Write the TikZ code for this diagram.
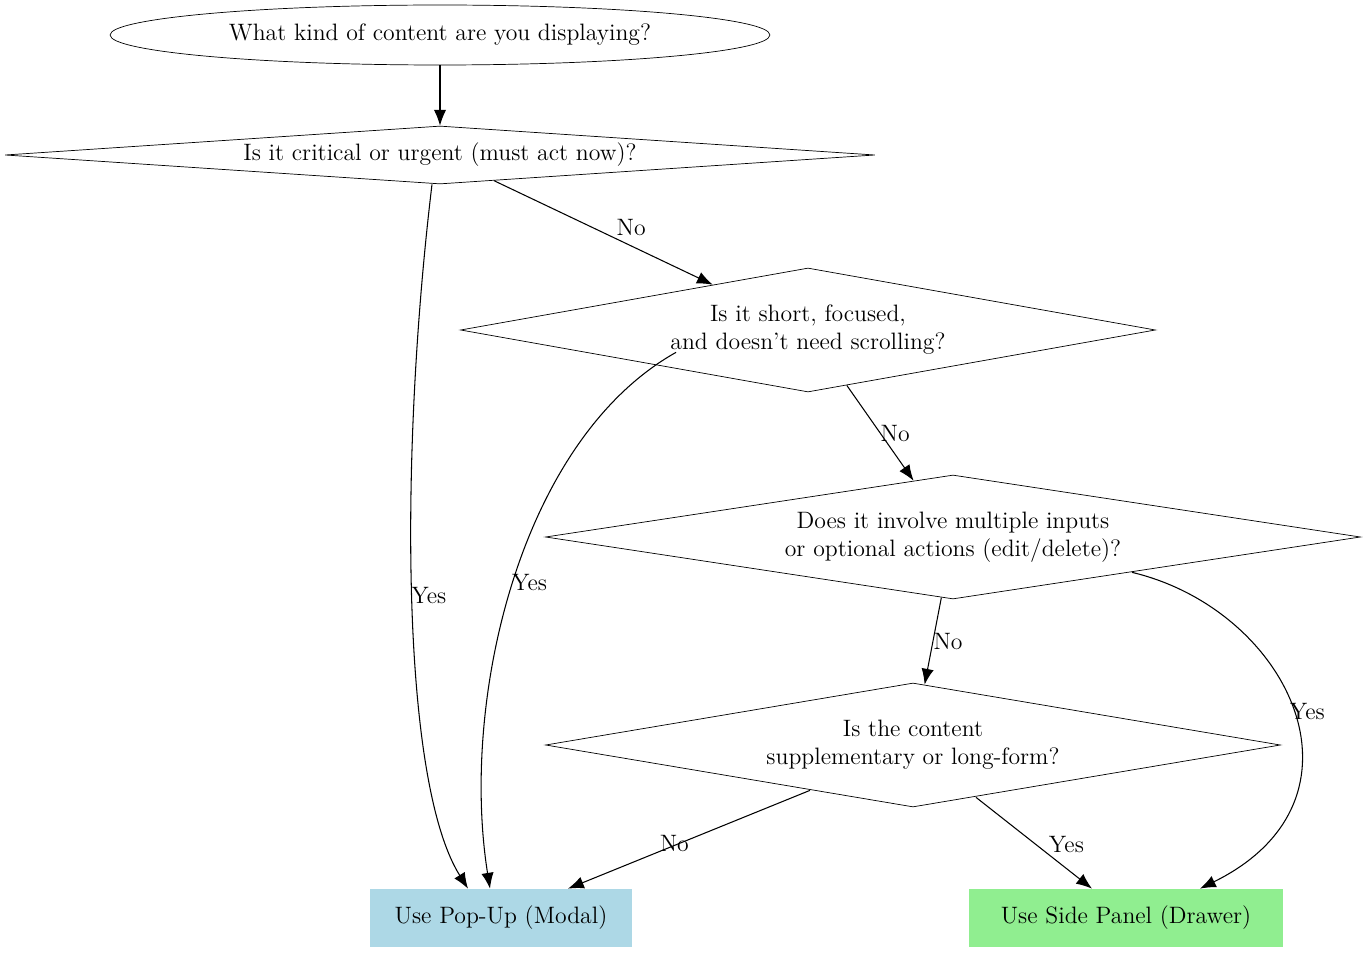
\documentclass[tikz,border=0pt]{standalone}
\usepackage{tikz}
\usetikzlibrary{shapes.geometric,arrows.meta,positioning}
\definecolor{modalblue}{RGB}{173,216,230}
\definecolor{drawergreen}{RGB}{144,238,144}
\tikzset{
	frage/.style={diamond, draw, inner sep=0pt, align=center},
	ziel/.style={rectangle, inner sep=0pt, minimum height=1.16cm},
	pfeil/.style={line width=0.6pt, -{Latex[length=9pt,width=7pt]}},
	lbl/.style={inner sep=1pt}
}
\begin{document}
\begin{tikzpicture}[x=0.02cm, y=-0.02cm, font=\fontsize{13.5}{16}\selectfont]
	\useasboundingbox (0,0) rectangle (1366,956);
	%%Knoten
	\node[ellipse, draw, minimum width=13.2cm, minimum height=1.2cm] (start) at (440,35) {What kind of content are you displaying?};
	\node[frage, minimum width=17.4cm, minimum height=1.16cm, aspect=15] (krit) at (440,155) {Is it critical or urgent (must act now)?};
	\node[frage, minimum width=13.9cm, minimum height=2.48cm, aspect=5.6] (kurz) at (808,330) {Is it short, focused,\\and doesn't need scrolling?};
	\node[frage, minimum width=16.3cm, minimum height=2.48cm, aspect=6.6] (multi) at (953,537) {Does it involve multiple inputs\\or optional actions (edit/delete)?};
	\node[frage, minimum width=14.7cm, minimum height=2.48cm, aspect=5.9] (lang) at (913,745) {Is the content\\supplementary or long-form?};
	\node[ziel, fill=modalblue, minimum width=5.24cm] (modal) at (501,918) {Use Pop-Up (Modal)};
	\node[ziel, fill=drawergreen, minimum width=6.28cm] (drawer) at (1126,918) {Use Side Panel (Drawer)};
	%%Pfeile
	\draw[pfeil] (start) -- (krit);
	\draw[pfeil] (krit) -- (kurz) node[lbl, pos=0.55, above right] {No};
	\draw[pfeil] ([xshift=-0.16cm]krit.south) .. controls (400,450) and (400,780) .. ([xshift=-0.66cm]modal.north) node[lbl, pos=0.5, right=-2pt] {Yes};
	\draw[pfeil] ([xshift=-2.64cm,yshift=0.8cm]kurz.south) .. controls (520,440) and (460,700) .. ([xshift=-0.22cm]modal.north) node[lbl, pos=0.5, right=-2pt] {Yes};
	\draw[pfeil] (kurz) -- (multi) node[lbl, pos=0.5, right=-1pt] {No};
	\draw[pfeil] (multi) -- (lang) node[lbl, pos=0.5, right=-1pt] {No};
	\draw[pfeil] ([xshift=3.58cm,yshift=0.54cm]multi.south) .. controls (1290,610) and (1380,800) .. ([xshift=1.48cm]drawer.north) node[lbl, pos=0.5, right=-3pt] {Yes};
	\draw[pfeil] ([xshift=-2.06cm,yshift=0.34cm]lang.south) -- ([xshift=1.34cm]modal.north) node[lbl, pos=0.62, above right=-2pt] {No};
	\draw[pfeil] ([xshift=1.26cm,yshift=0.2cm]lang.south) -- ([xshift=-0.68cm]drawer.north) node[lbl, pos=0.62, above right=-1pt] {Yes};
\end{tikzpicture}
\end{document}
